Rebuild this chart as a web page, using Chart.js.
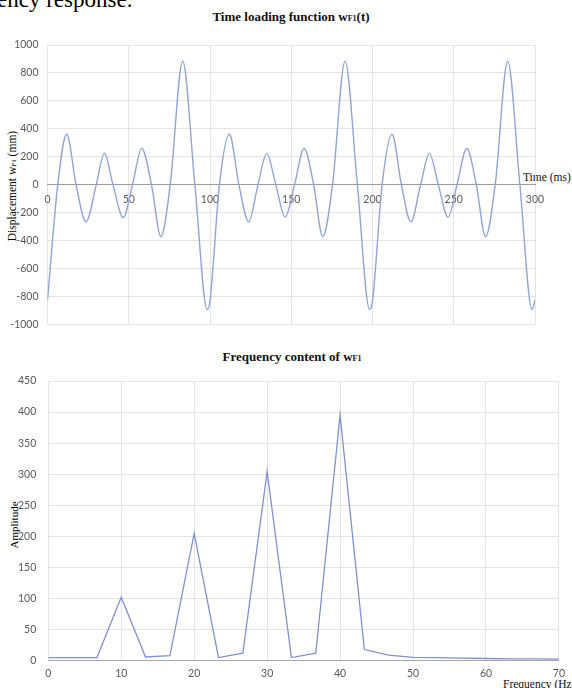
<!DOCTYPE html>
<html><head><meta charset="utf-8">
<script src="https://cdn.jsdelivr.net/npm/chart.js@4.4.1/dist/chart.umd.min.js"></script>
<style>
html,body{margin:0;padding:0;background:#fff;}
body{width:572px;height:688px;overflow:hidden;position:relative;font-family:"Liberation Serif","DejaVu Serif",serif;}
.t{position:absolute;white-space:nowrap;color:#111;}
.sc{font-size:0.62em;}
canvas{position:absolute;left:0;}
.rot{position:absolute;width:220px;height:14px;line-height:14px;text-align:center;transform:rotate(-90deg);}
</style></head><body>
<div class="t" style="left:-3px;top:-12px;font-size:23px;line-height:23px;color:#000;">ency response.</div>
<div class="t" style="left:0;width:582px;text-align:center;top:9px;font-size:13px;line-height:16px;font-weight:bold;">Time loading function w<span class="sc">F1</span>(t)</div>
<div class="t" style="left:0;width:584px;text-align:center;top:349px;font-size:13px;line-height:16px;font-weight:bold;">Frequency content of w<span class="sc">F1</span></div>
<div class="rot" style="left:-98px;top:179px;font-size:11.5px;">Displacement w<span class="sc">F1</span> (mm)</div>
<div class="rot" style="left:-96px;top:518px;font-size:11px;">Amplitude</div>
<div class="t" style="left:523px;top:170px;font-size:11.5px;line-height:14px;">Time (ms)</div>
<div class="t" style="left:503px;top:677px;font-size:11.5px;line-height:14px;">Frequency (Hz)</div>
<canvas id="c1" width="572" height="340" style="top:0;width:572px;height:340px;"></canvas>
<canvas id="c2" width="572" height="348" style="top:340px;width:572px;height:348px;"></canvas>
<script>
// Time loading function (extrema and zero crossings)
const timeMs = [0, 6.3, 11.8, 17.6, 23.7, 30.0, 35.0, 40.3, 46.6, 52.3, 58.0, 64.0, 69.8, 75.5, 83.2, 90.7, 98.3,
  100, 105.8, 111.9, 117.8, 123.8, 129.5, 134.9, 140.5, 146.3, 152.0, 157.9, 163.8, 169.4, 175.4, 183.1, 190.7, 198.2,
  200, 205.9, 212.0, 217.8, 223.6, 229.6, 235.0, 240.5, 246.5, 252.0, 258.0, 263.9, 269.6, 275.5, 283.2, 290.7, 298.2, 300];
const displacement = [-825, 0, 362, 0, -265, 0, 226, 0, -234, 0, 261, 0, -371, 0, 884, 0, -891,
  -830, 0, 362, 0, -265, 0, 225, 0, -230, 0, 260, 0, -371, 0, 883, 0, -891,
  -830, 0, 362, 0, -265, 0, 225, 0, -231, 0, 260, 0, -371, 0, 883, 0, -891, -825];
// Frequency content
const freqHz = [0, 3.33, 6.67, 10, 13.33, 16.67, 20, 23.33, 26.67, 30, 33.33, 36.67, 40, 43.33, 46.67, 50, 53.33, 56.67, 60, 63.33, 66.67, 70];
const amplitude = [5, 5, 5, 102, 6, 8, 205, 5, 12, 304, 5, 12, 395, 18, 9, 5.5, 5, 4, 3.5, 3, 3, 2.5];
const timeTicks = [0, 50, 100, 150, 200, 250, 300];
const dispTicks = [-1000, -800, -600, -400, -200, 0, 200, 400, 600, 800, 1000];
const freqTicks = [0, 10, 20, 30, 40, 50, 60, 70];
const ampTicks = [0, 50, 100, 150, 200, 250, 300, 350, 400, 450];

const tickFont = {family: 'Lato, "Liberation Sans", sans-serif', size: 10.5};
const tickColor = '#595959';
const gridColor = '#e4e4e4';
const plain = v => String(v);

function pts(xs, ys) { return xs.map((x, i) => ({x: x, y: ys[i]})); }
function fixedTicks(list) { return function(scale) { scale.ticks = list.map(v => ({value: v})); }; }

new Chart(document.getElementById('c1'), {
  type: 'line',
  data: {datasets: [{data: pts(timeMs, displacement), borderColor: '#8fa6d4', borderWidth: 1.4,
    pointRadius: 0, cubicInterpolationMode: 'monotone', fill: false}]},
  options: {
    responsive: false, animation: false,
    layout: {padding: {left: 0, right: 37, top: 45, bottom: 12.5}},
    plugins: {legend: {display: false}, tooltip: {enabled: false}, title: {display: false}},
    scales: {
      x: {type: 'linear', min: 0, max: 300, position: {y: 0},
        afterBuildTicks: fixedTicks(timeTicks),
        ticks: {font: tickFont, color: tickColor, padding: 8, maxRotation: 0, callback: plain},
        grid: {color: gridColor, drawTicks: false},
        border: {color: '#9c9c9c', width: 1}},
      y: {type: 'linear', min: -1000, max: 1000,
        afterBuildTicks: fixedTicks(dispTicks),
        afterFit: s => { s.width = 47.5; },
        ticks: {font: tickFont, color: tickColor, padding: 9, callback: plain},
        grid: {color: gridColor, drawTicks: false},
        border: {display: false}}
    }
  }
});

new Chart(document.getElementById('c2'), {
  type: 'line',
  data: {datasets: [{data: pts(freqHz, amplitude), borderColor: '#7f92cf', borderWidth: 1.3,
    pointRadius: 0, tension: 0, fill: false}]},
  options: {
    responsive: false, animation: false,
    layout: {padding: {left: 0, right: 12.7, top: 41, bottom: 0}},
    plugins: {legend: {display: false}, tooltip: {enabled: false}, title: {display: false}},
    scales: {
      x: {type: 'linear', min: 0, max: 70, position: 'bottom',
        afterBuildTicks: fixedTicks(freqTicks),
        afterFit: s => { s.height = 27.3; },
        ticks: {font: tickFont, color: tickColor, padding: 7, maxRotation: 0, callback: plain},
        grid: {color: gridColor, drawTicks: false},
        border: {color: '#a8a8a8', width: 1}},
      y: {type: 'linear', min: 0, max: 450,
        afterBuildTicks: fixedTicks(ampTicks),
        afterFit: s => { s.width = 48.3; },
        ticks: {font: tickFont, color: tickColor, padding: 12, callback: plain},
        grid: {color: gridColor, drawTicks: false},
        border: {display: false}}
    }
  }
});
</script>
</body></html>
